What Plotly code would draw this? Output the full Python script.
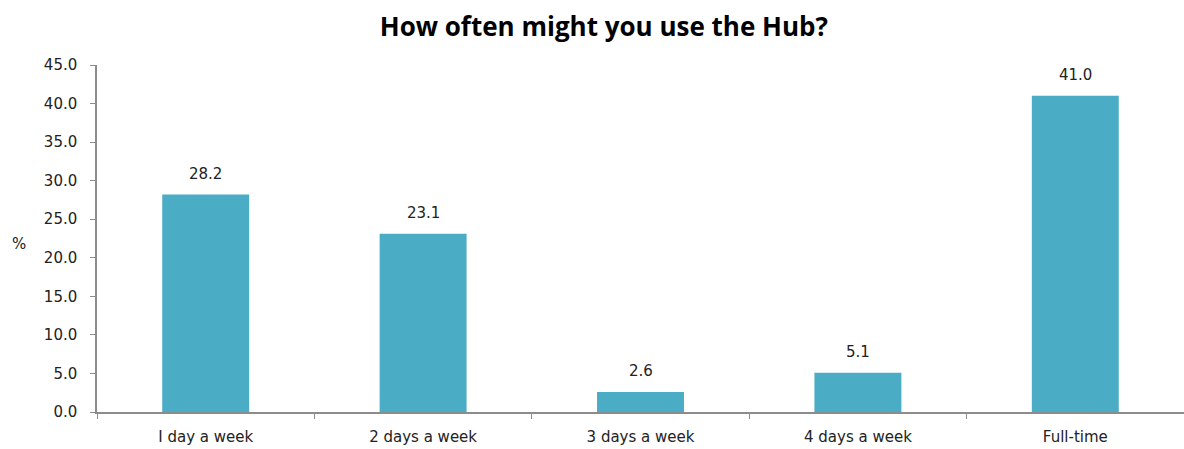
import plotly.graph_objects as go

categories = ["I day a week", "2 days a week", "3 days a week", "4 days a week", "Full-time"]
percentages = [28.2, 23.1, 2.6, 5.1, 41.0]
y_ticks = [0, 5, 10, 15, 20, 25, 30, 35, 40, 45]

bar_color = "#4BACC6"
axis_color = "#8C8C8C"
label_font = dict(family="DejaVu Sans", size=15, color="#222222")

fig = go.Figure(
    go.Bar(
        x=categories,
        y=percentages,
        marker=dict(color=bar_color, line=dict(width=0)),
        width=0.4,
        hoverinfo="x+y",
    )
)

fig.update_layout(
    width=1184,
    height=449,
    margin=dict(l=97, r=0, t=65, b=37),
    paper_bgcolor="white",
    plot_bgcolor="white",
    showlegend=False,
    title=dict(
        text="<b>How often might you use the Hub?</b>",
        x=0.51,
        xanchor="center",
        y=0.94,
        yanchor="middle",
        font=dict(family="Open Sans", size=26, color="black"),
    ),
    xaxis=dict(
        showline=True,
        linecolor=axis_color,
        linewidth=1.5,
        ticks="outside",
        tickson="boundaries",
        ticklen=5,
        tickcolor=axis_color,
        tickfont=label_font,
        ticklabelstandoff=10,
        showgrid=False,
        range=[-0.5, 4.5],
    ),
    yaxis=dict(
        range=[0, 45],
        tickvals=y_ticks,
        ticktext=[f"{v:.1f}" for v in y_ticks],
        showline=True,
        linecolor=axis_color,
        linewidth=1.5,
        ticks="outside",
        ticklen=5,
        tickcolor=axis_color,
        tickfont=label_font,
        ticklabelstandoff=10,
        showgrid=False,
        zeroline=False,
    ),
)

# value labels sitting above each bar
for cat, val in zip(categories, percentages):
    fig.add_annotation(
        x=cat,
        y=val,
        text=f"{val:.1f}",
        showarrow=False,
        xanchor="center",
        yanchor="bottom",
        yshift=10,
        font=label_font,
    )

# unit label beside the value axis
fig.add_annotation(
    text="%",
    xref="paper",
    yref="paper",
    x=-0.072,
    y=0.483,
    showarrow=False,
    xanchor="center",
    yanchor="middle",
    font=label_font,
)

fig.write_html("out.html")
